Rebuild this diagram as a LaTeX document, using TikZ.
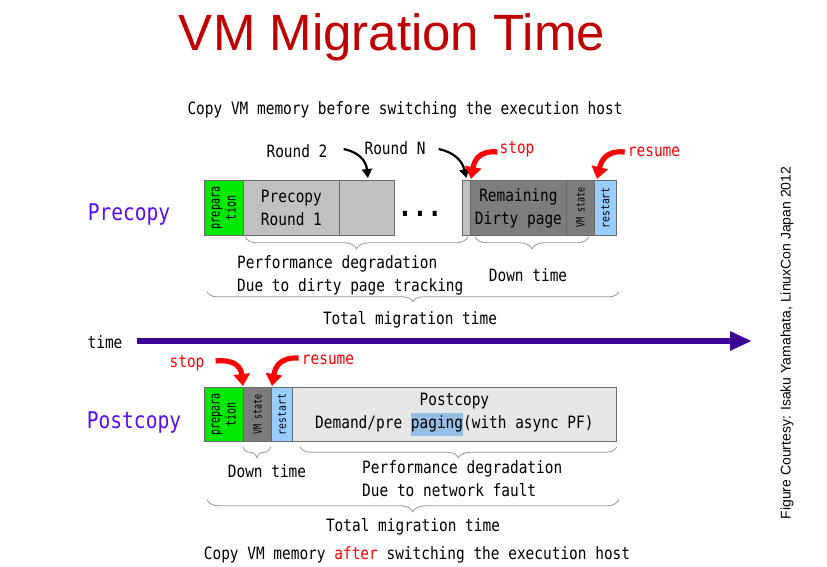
\documentclass[tikz,border=0pt]{standalone}
\usepackage{fontspec}
\setmainfont{Liberation Sans}
\newfontfamily\monof[FakeStretch=0.85]{DejaVu Sans Mono}
\newfontfamily\monon[FakeStretch=0.72]{DejaVu Sans Mono}
\usetikzlibrary{arrows.meta,decorations.pathreplacing}
\definecolor{titlered}{RGB}{192,0,0}
\definecolor{vgreen}{RGB}{0,232,0}
\definecolor{lgray}{RGB}{192,192,192}
\definecolor{dgray}{RGB}{125,125,125}
\definecolor{pcgray}{RGB}{230,230,230}
\definecolor{rblue}{RGB}{153,204,255}
\definecolor{hlblue}{RGB}{150,190,228}
\definecolor{boxline}{RGB}{105,105,105}
\definecolor{bracegray}{RGB}{150,150,150}
\definecolor{timepurple}{RGB}{60,0,150}
\definecolor{labelblue}{RGB}{90,10,245}
\definecolor{pred}{RGB}{255,0,0}
\newcommand\fmono{\monof\fontsize{17}{23}\selectfont}
\newcommand\fbigmono{\monof\fontsize{23}{28}\selectfont}
\newcommand\fprep{\monon\fontsize{14}{16}\selectfont}
\newcommand\fvms{\monon\fontsize{11.5}{13}\selectfont}
\newcommand\frst{\monof\fontsize{11.5}{13}\selectfont}
\begin{document}
\begin{tikzpicture}[x=1pt,y=-1pt,
  box/.style={draw=boxline,line width=0.8pt,inner sep=0pt,anchor=north west,font=\fmono,align=center,text=black},
  txt/.style={font=\fmono,inner sep=0pt,text=black},
  rot/.style={rotate=90,inner sep=0pt,align=center,text=black},
  br/.style={decorate,decoration={brace,mirror,amplitude=#1},draw=bracegray,line width=0.8pt},
  redarr/.style={draw=pred,line width=5.2pt,-{Triangle[width=16pt,length=12pt]}},
  blkarr/.style={draw=black,line width=2.2pt,-{Triangle[width=10pt,length=9pt]}},
  timearr/.style={draw=timepurple,line width=6pt,-{Triangle[width=18pt,length=22pt]}}
]
\fill[white] (0,0) rectangle (827,566);
\useasboundingbox (0,0) rectangle (827,566);

% title and captions
\node[anchor=base,inner sep=0pt,font=\fontsize{51}{60}\selectfont,text=titlered] (title) at (392,50) {VM Migration Time};
\node[txt] (sub1) at (405,110) {Copy VM memory before switching the execution host};
\node[rotate=90,inner sep=0pt,font=\fontsize{14}{16}\selectfont] (fc) at (787,343) {Figure Courtesy: Isaku Yamahata, LinuxCon Japan 2012};

% precopy row
\node[txt,font=\fbigmono,text=labelblue] (prelab) at (129,215) {Precopy};
\node[box,fill=vgreen,minimum width=39pt,minimum height=55pt] (prep1) at (204,180) {};
\node[rot,font=\fprep] (prep1t) at (prep1.center) {prepara\\tion};
\node[box,fill=lgray,minimum width=96pt,minimum height=55pt] (r1) at (243,180) {Precopy\\Round 1};
\node[box,fill=lgray,minimum width=55pt,minimum height=55pt] (r2) at (339,180) {};
\node[txt,font=\monof\bfseries\fontsize{29}{30}\selectfont,anchor=base] (dots) at (420,216) {...};
\node[box,fill=lgray,minimum width=8pt,minimum height=55pt] (rn) at (462,180) {};
\node[box,fill=dgray,minimum width=96pt,minimum height=55pt] (rem) at (470,180) {Remaining\\Dirty page};
\node[box,fill=dgray,minimum width=28pt,minimum height=55pt] (vs1) at (566,180) {};
\node[rot,font=\fvms] (vs1t) at (vs1.center) {VM state};
\node[box,fill=rblue,minimum width=22pt,minimum height=55pt] (rs1) at (594,180) {};
\node[rot,font=\frst] (rs1t) at (rs1.center) {restart};

\node[txt] (lr2) at (297,151) {Round 2};
\node[txt] (lrn) at (395,148) {Round N};
\node[txt,text=pred] (stop1) at (517,149) {stop};
\node[txt,text=pred] (res1) at (654,152) {resume};

\draw[blkarr] ([shift={(16,-2)}]lr2.east) .. controls (358,152) and (366,160) .. ([shift={(1,-2)}]r2.north);
\draw[blkarr] ([shift={(13,1)}]lrn.east) .. controls (453,152) and (462,160) .. ([shift={(0,-2)}]rn.north);
\draw[redarr] ([shift={(-2,3)}]stop1.west) .. controls (478,150) and (474,162) .. ([shift={(1,-1)}]rem.north west);
\draw[redarr] ([shift={(-3,0)}]res1.west) .. controls (605,150) and (601,162) .. ([shift={(3,-1)}]rs1.north west);

\draw[br=12pt] ([shift={(2,1)}]r1.south west) -- ([shift={(-3,1)}]rn.south east);
\draw[br=12pt] ([shift={(5,1)}]rem.south west) -- ([shift={(-6,1)}]vs1.south east);
\node[txt,anchor=west,align=left] (perf1) at (237,275) {Performance degradation\\Due to dirty page tracking};
\node[txt] (dt1) at (528,275) {Down time};
\draw[br=10pt] ([shift={(3,56)}]prep1.south west) -- ([shift={(2,56)}]rs1.south east);
\node[txt] (tot1) at (410,320) {Total migration time};

% time axis
\node[txt] (tl) at (105,342) {time};
\coordinate (tend) at (752,341);
\draw[timearr] ([shift={(14,-1)}]tl.east) -- (tend);

% postcopy row
\node[txt,font=\fbigmono,text=labelblue] (postlab) at (134,422) {Postcopy};
\node[box,fill=vgreen,minimum width=39pt,minimum height=54pt] (prep2) at (204,387) {};
\node[rot,font=\fprep] (prep2t) at (prep2.center) {prepara\\tion};
\node[box,fill=dgray,minimum width=28pt,minimum height=54pt] (vs2) at (243,387) {};
\node[rot,font=\fvms] (vs2t) at (vs2.center) {VM state};
\node[box,fill=rblue,minimum width=21pt,minimum height=54pt] (rs2) at (271,387) {};
\node[rot,font=\frst] (rs2t) at (rs2.center) {restart};
\node[box,fill=pcgray,minimum width=324pt,minimum height=54pt] (pc) at (292,387) {Postcopy\\Demand/pre {\fboxsep=0pt\colorbox{hlblue}{\rule[-7pt]{0pt}{23pt}paging}}(with async PF)};

\node[txt,text=pred] (stop2) at (187,363) {stop};
\node[txt,text=pred] (res2) at (328,360) {resume};
\draw[redarr] ([shift={(11,-2)}]stop2.east) .. controls (236,359) and (241,368) .. ([shift={(0,-1)}]vs2.north west);
\draw[redarr] ([shift={(-3,-2)}]res2.west) .. controls (279,357) and (275,368) .. ([shift={(1,-1)}]rs2.north west);

\draw[br=11pt] ([shift={(0,5)}]vs2.south west) -- ([shift={(-1,5)}]vs2.south east);
\draw[br=11pt] ([shift={(8,5)}]pc.south west) -- ([shift={(0,5)}]pc.south east);
\node[txt] (dt2) at (267,471) {Down time};
\node[txt,anchor=west,align=left] (perf2) at (362,479) {Performance degradation\\Due to network fault};
\draw[br=12pt] ([shift={(3,58)}]prep2.south west) -- ([shift={(2,58)}]pc.south east);
\node[txt] (tot2) at (413,527) {Total migration time};
\node[txt] (sub2) at (417,555) {Copy VM memory \textcolor{pred}{after} switching the execution host};
\end{tikzpicture}
\end{document}
